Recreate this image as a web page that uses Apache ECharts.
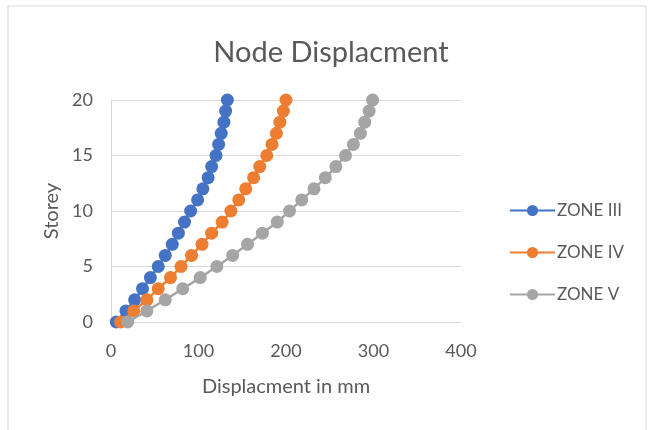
<!DOCTYPE html>
<html>
<head>
<meta charset="utf-8">
<script src="https://cdn.jsdelivr.net/npm/echarts@6/dist/echarts.min.js"></script>
<style>
html,body{margin:0;padding:0;background:#fff;}
#chart{width:648px;height:430px;}
</style>
</head>
<body>
<div id="chart"></div>
<script>
const storeys = [0,1,2,3,4,5,6,7,8,9,10,11,12,13,14,15,16,17,18,19,20];
const zoneIII = [6,17,27,36,45,54,62,70,77,84,91,99,105,111,115,120,123,126,129,131,133];
const zoneIV  = [11,26,41,54,68,80,92,104,115,127,137,146,154,163,170,178,184,189,193,197,200];
const zoneV   = [19,41,62,82,102,121,139,156,173,190,204,218,232,245,257,268,277,285,290,295,299];
const seriesNames = ['ZONE III','ZONE IV','ZONE V'];
const colors = ['#4472C4','#ED7D31','#A5A5A5'];

const FONT = 'Lato, "Open Sans", sans-serif';
const chart = echarts.init(document.getElementById('chart'));

function pairs(xs){ return xs.map((x,i)=>[x, storeys[i]]); }

chart.setOption({
  animation:false,
  backgroundColor:'#ffffff',
  title:{
    text:'Node Displacment',
    left:326, top:33, textAlign:'center',
    textStyle:{fontFamily:FONT,fontSize:29,fontWeight:'normal',color:'#595959'}
  },
  graphic:[{
    type:'rect', shape:{x:8,y:6,width:638,height:430},
    style:{fill:'none',stroke:'#d9d9d9',lineWidth:1}, silent:true
  }],
  legend:{
    orient:'vertical', left:509, top:202, itemGap:25, padding:0,
    itemWidth:45, itemHeight:14,
    data:seriesNames,
    textStyle:{fontFamily:FONT,fontSize:17,color:'#595959',padding:[0,0,0,-3]}
  },
  grid:{left:111, top:100, width:350, height:222, containLabel:false},
  xAxis:{
    type:'value', min:0, max:400, interval:100,
    name:'Displacment in mm', nameLocation:'middle', nameGap:55,
    nameTextStyle:{fontFamily:FONT,fontSize:20,color:'#595959'},
    axisLine:{show:false}, axisTick:{show:false},
    axisLabel:{fontFamily:FONT,fontSize:18,color:'#595959',margin:20},
    splitLine:{show:false}
  },
  yAxis:{
    type:'value', min:0, max:20, interval:5,
    name:'Storey', nameLocation:'middle', nameGap:48, nameRotate:90,
    nameTextStyle:{fontFamily:FONT,fontSize:20,color:'#595959'},
    axisLine:{show:true,lineStyle:{color:'#d9d9d9',width:1}}, axisTick:{show:false},
    axisLabel:{fontFamily:FONT,fontSize:18,color:'#595959',margin:18},
    splitLine:{show:true,lineStyle:{color:'#d9d9d9',width:1}}
  },
  series:[zoneIII,zoneIV,zoneV].map((d,i)=>({
    name:seriesNames[i], type:'line', data:pairs(d),
    symbol:'circle', symbolSize:13,
    itemStyle:{color:colors[i]},
    lineStyle:{color:colors[i],width:2.5},
    z:2+i
  }))
});
</script>
</body>
</html>
